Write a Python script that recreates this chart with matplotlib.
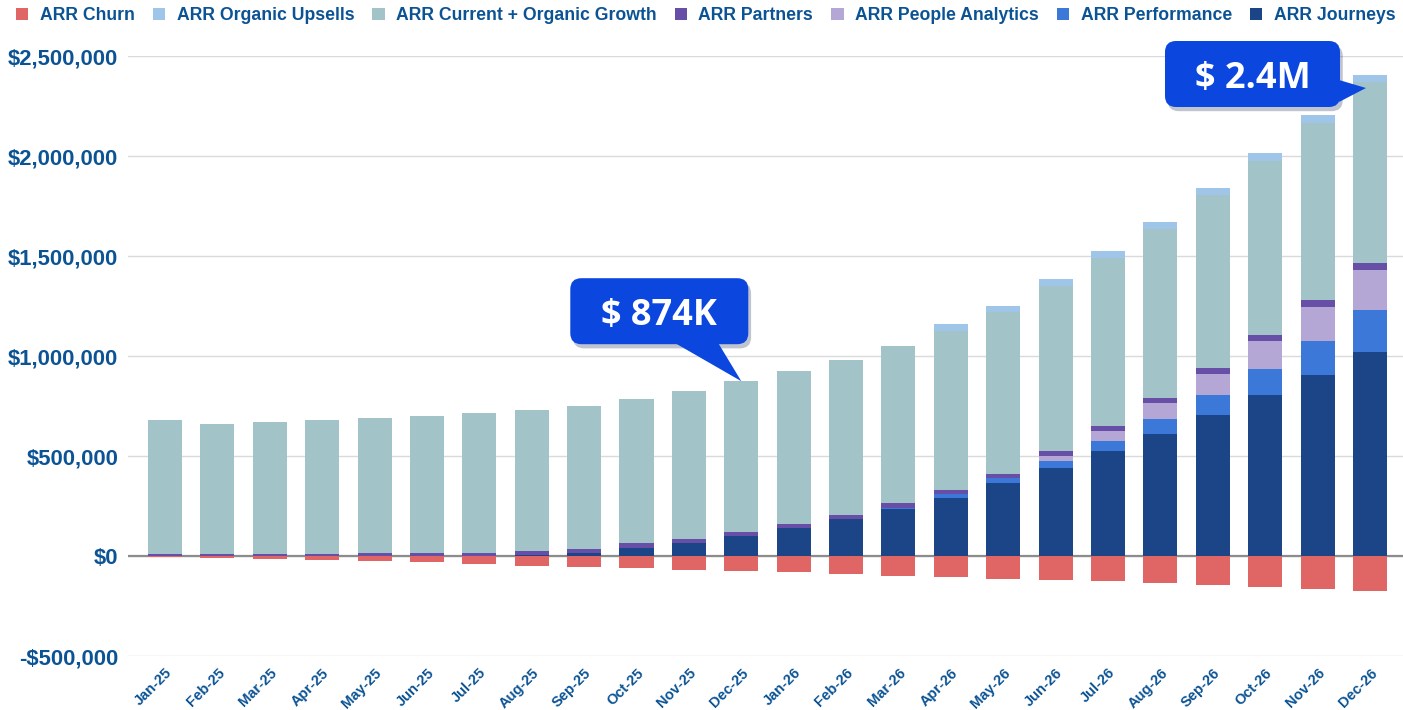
import matplotlib.pyplot as plt
import matplotlib.transforms as mtransforms
import matplotlib.patheffects as pe
from matplotlib.patches import FancyBboxPatch, Polygon, Patch
from matplotlib.ticker import FuncFormatter
import numpy as np

plt.rcParams['font.family'] = ['Liberation Sans', 'DejaVu Sans']

# ---- data ----
months = ['Jan-25', 'Feb-25', 'Mar-25', 'Apr-25', 'May-25', 'Jun-25', 'Jul-25', 'Aug-25',
          'Sep-25', 'Oct-25', 'Nov-25', 'Dec-25', 'Jan-26', 'Feb-26', 'Mar-26', 'Apr-26',
          'May-26', 'Jun-26', 'Jul-26', 'Aug-26', 'Sep-26', 'Oct-26', 'Nov-26', 'Dec-26']

journeys = [0, 0, 0, 0, 0, 0, 0, 3000, 17000, 40000, 65000, 100000,
            138000, 183000, 233000, 292000, 363000, 440000, 525000, 611500,
            705000, 806700, 906700, 1018300]
performance = [0, 0, 0, 0, 0, 0, 0, 0, 0, 0, 0, 0,
               0, 0, 7000, 17000, 25000, 35000, 50000, 71500,
               100000, 128300, 166600, 210000]
people_analytics = [0, 0, 0, 0, 0, 0, 0, 0, 0, 0, 0, 0,
                    0, 0, 0, 0, 3000, 23000, 50000, 82000,
                    103000, 140000, 173400, 200000]
partners = [12000, 12000, 12000, 12000, 16000, 16000, 16000, 20000, 17000, 23000, 20000, 18000,
            22000, 22000, 27000, 21000, 17000, 27000, 26500, 26500,
            32000, 31700, 31600, 38400]
current_growth = [668000, 646300, 658000, 668000, 674000, 685700, 697300, 705300,
                  717700, 722000, 740000, 756000, 765000, 773300, 785000, 797000,
                  812000, 826700, 836500, 845200, 866700, 870000, 888400, 905000]
organic_upsells = [0, 0, 0, 0, 0, 0, 0, 0, 0, 0, 0, 0,
                   0, 0, 0, 31000, 32000, 33300, 35000, 35000,
                   31600, 40000, 38300, 33300]
churn = [-3000, -10000, -15000, -20000, -27000, -32000, -42000, -48000,
         -53000, -60000, -70000, -77000, -81000, -92000, -98000, -105000,
         -115000, -122000, -127000, -137000, -143000, -153000, -165000, -177000]

# stacked from bottom to top
stack = [
    ('ARR Journeys', journeys, '#1C4587'),
    ('ARR Performance', performance, '#3C78D8'),
    ('ARR People Analytics', people_analytics, '#B4A7D6'),
    ('ARR Partners', partners, '#674EA7'),
    ('ARR Current + Organic Growth', current_growth, '#A2C4C9'),
    ('ARR Organic Upsells', organic_upsells, '#9FC5E8'),
]
churn_color = '#E06666'
text_color = '#0B5394'
callout_color = '#0B46DF'

W, H = 1403, 710
fig = plt.figure(figsize=(W / 100, H / 100), dpi=100)
ax = fig.add_axes([128 / W, 54 / H, 1 - 128 / W, 600 / H])

x = np.arange(len(months))
bw = 0.65
bottom = np.zeros(len(months))
for name, vals, col in stack:
    vals = np.array(vals, dtype=float)
    ax.bar(x, vals, bw, bottom=bottom, color=col, zorder=2, linewidth=0)
    bottom += vals
ax.bar(x, churn, bw, color=churn_color, zorder=2, linewidth=0)
totals = bottom

ax.set_xlim(-0.706, 23.63)
ax.set_ylim(-500000, 2500000)
ax.set_yticks(np.arange(-500000, 2500001, 500000))
ax.yaxis.set_major_formatter(FuncFormatter(
    lambda v, p: f"-${abs(v):,.0f}" if v < 0 else f"${v:,.0f}"))
ax.yaxis.grid(True, color='#DADADA', linewidth=1)
ax.set_axisbelow(True)
ax.axhline(0, color='#8C8C8C', linewidth=1.6, zorder=1.5)
for s in ax.spines.values():
    s.set_visible(False)

ax.tick_params(axis='y', length=0, pad=7, labelsize=15.8, labelcolor=text_color)
for t in ax.get_yticklabels():
    t.set_fontweight('bold')

ax.set_xticks(x)
ax.set_xticklabels(months, rotation=45, ha='right', va='top', rotation_mode='anchor',
                   fontsize=10.5, fontweight='bold', color=text_color)
ax.tick_params(axis='x', length=0, pad=7)

# legend
legend_order = ['ARR Churn', 'ARR Organic Upsells', 'ARR Current + Organic Growth',
                'ARR Partners', 'ARR People Analytics', 'ARR Performance', 'ARR Journeys']
colors = {name: col for name, _, col in stack}
colors['ARR Churn'] = churn_color
handles = [Patch(facecolor=colors[n], edgecolor='none', label=n) for n in legend_order]
leg = fig.legend(handles=handles, loc='upper center', bbox_to_anchor=(0.503, 1.012), ncol=7,
                 frameon=False, handlelength=0.7, handleheight=0.7, handletextpad=0.65,
                 columnspacing=1.02, prop={'weight': 'bold', 'size': 12.7})
for t in leg.get_texts():
    t.set_color(text_color)

# callouts (pixel offsets from the bar they point to)
ident = mtransforms.IdentityTransform()
shadow = [pe.SimplePatchShadow(offset=(2, -3), alpha=0.25), pe.Normal()]


def callout(text, tip, box, tail):
    tx, ty = tip
    l, r, b, t = box
    fb = FancyBboxPatch((tx + l, ty + b), r - l, t - b,
                        boxstyle='round,pad=0,rounding_size=11',
                        facecolor=callout_color, edgecolor='none',
                        transform=ident, zorder=10, path_effects=shadow)
    fig.add_artist(fb)
    tail_pts = [(tx + px, ty + py) for px, py in tail] + [(tx, ty)]
    fig.add_artist(Polygon(tail_pts, closed=True, facecolor=callout_color, edgecolor='none',
                           transform=ident, zorder=10))
    fig.text(tx + (l + r) / 2, ty + (b + t) / 2, text, transform=ident, ha='center',
             va='center_baseline', color='white', fontsize=26, fontweight='bold',
             family=['Open Sans', 'DejaVu Sans'], zorder=11)


tip1 = ax.transData.transform((11, totals[11]))
callout('$ 874K', tip1, (-171, 7, 37, 103), [(-66, 38), (-23, 38)])

tip2 = ax.transData.transform((23, totals[23])) + np.array([-4, -13])
callout('$ 2.4M', tip2, (-201, -26, -19, 47), [(-27, 8), (-27, -14)])

fig.savefig('out.png', dpi=100)
